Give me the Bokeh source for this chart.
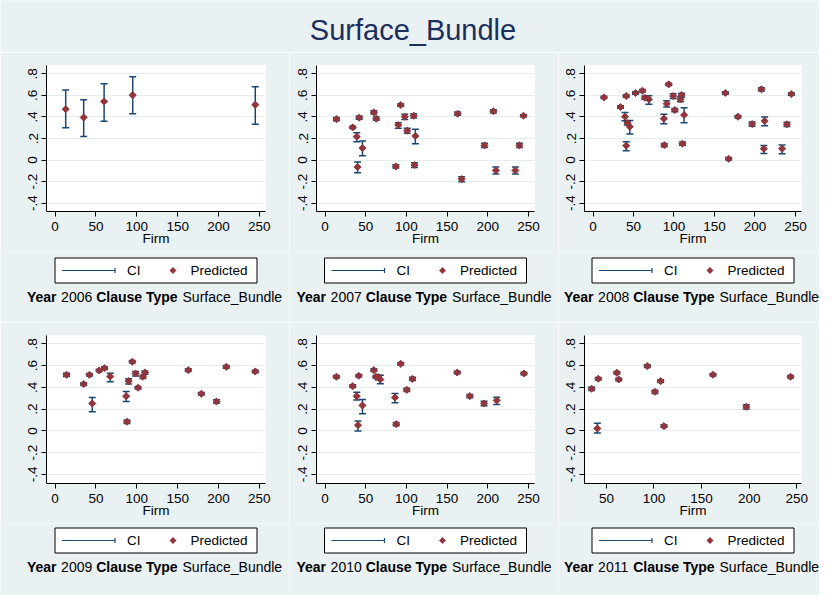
import math
from bokeh.plotting import figure
from bokeh.layouts import column, row
from bokeh.models import Range1d, FixedTicker, Whisker, TeeHead, ColumnDataSource
from bokeh.core.properties import value
from bokeh.embed import file_html
from bokeh.resources import INLINE

# ---------------- data ----------------
TITLE = "Surface_Bundle"
YEARS = [2006, 2007, 2008, 2009, 2010, 2011]
X_TICKS = [0, 50, 100, 150, 200, 250]
Y_TICKS = [-0.4, -0.2, 0, 0.2, 0.4, 0.6, 0.8]
Y_LABELS = ["-.4", "-.2", "0", ".2", ".4", ".6", ".8"]

firm_2006 = [13, 35, 60, 95, 245]
pred_2006 = [0.472, 0.395, 0.543, 0.602, 0.513]
lo_2006 = [0.299, 0.219, 0.361, 0.429, 0.333]
hi_2006 = [0.649, 0.559, 0.707, 0.772, 0.680]

firm_2007 = [14, 34, 39, 40, 42, 46, 60, 63, 87, 90, 93, 98, 101, 109, 110, 111,
             163, 168, 196, 207, 210, 234, 239, 244]
pred_2007 = [0.380, 0.303, 0.217, -0.065, 0.393, 0.111, 0.442, 0.384, -0.059, 0.325,
             0.510, 0.402, 0.272, 0.411, -0.046, 0.223, 0.430, -0.176, 0.136, 0.452,
             -0.096, -0.096, 0.136, 0.411]
lo_2007 = [0.365, 0.293, 0.170, -0.118, 0.378, 0.040, 0.427, 0.369, -0.074, 0.294,
           0.498, 0.377, 0.248, 0.390, -0.070, 0.152, 0.415, -0.200, 0.116, 0.437,
           -0.130, -0.130, 0.116, 0.401]
hi_2007 = [0.395, 0.313, 0.254, -0.019, 0.408, 0.176, 0.457, 0.399, -0.044, 0.346,
           0.522, 0.424, 0.295, 0.430, -0.025, 0.285, 0.445, -0.155, 0.156, 0.467,
           -0.065, -0.065, 0.156, 0.421]

firm_2008 = [13.5, 34, 39.5, 41, 41, 42.5, 45.5, 52.5, 61, 64, 69, 87.5, 88, 91, 93.5,
             99, 101, 108, 109.5, 110.5, 112.5, 163.5, 167.5, 179, 196.5, 208, 211,
             212, 233.5, 239.5, 245]
pred_2008 = [0.581, 0.492, 0.402, 0.594, 0.133, 0.343, 0.309, 0.622, 0.643, 0.578,
             0.563, 0.384, 0.139, 0.523, 0.702, 0.594, 0.464, 0.563, 0.603, 0.152,
             0.418, 0.622, 0.012, 0.402, 0.334, 0.656, 0.105, 0.362, 0.105, 0.331, 0.612]
lo_2008 = [0.571, 0.480, 0.365, 0.582, 0.087, 0.325, 0.241, 0.610, 0.631, 0.563,
           0.517, 0.337, 0.124, 0.492, 0.692, 0.570, 0.449, 0.540, 0.585, 0.137,
           0.346, 0.610, 0.000, 0.390, 0.314, 0.641, 0.062, 0.319, 0.059, 0.311, 0.600]
hi_2008 = [0.591, 0.504, 0.440, 0.606, 0.170, 0.360, 0.368, 0.634, 0.655, 0.593,
           0.597, 0.424, 0.154, 0.549, 0.712, 0.615, 0.479, 0.585, 0.620, 0.167,
           0.486, 0.634, 0.024, 0.414, 0.354, 0.671, 0.136, 0.399, 0.139, 0.351, 0.624]

firm_2009 = [14, 35, 42, 45.5, 54, 60.5, 67.5, 87, 88, 90, 94.5, 98.5, 101.5, 107.5,
             110, 163, 179, 197.5, 209.5, 245]
pred_2009 = [0.515, 0.430, 0.515, 0.252, 0.555, 0.576, 0.500, 0.319, 0.084, 0.457,
             0.635, 0.527, 0.396, 0.497, 0.536, 0.558, 0.341, 0.270, 0.588, 0.546]
lo_2009 = [0.500, 0.418, 0.503, 0.175, 0.543, 0.564, 0.451, 0.270, 0.069, 0.430,
           0.623, 0.505, 0.384, 0.482, 0.521, 0.546, 0.329, 0.255, 0.576, 0.534]
hi_2009 = [0.530, 0.442, 0.527, 0.307, 0.567, 0.588, 0.530, 0.362, 0.099, 0.480,
           0.647, 0.545, 0.408, 0.512, 0.551, 0.570, 0.353, 0.285, 0.600, 0.558]

firm_2010 = [14, 34, 39, 40.5, 41.5, 46, 60, 62.5, 65.5, 68, 86, 87.5, 93, 100.5,
             107.5, 162.5, 178, 195.5, 211, 244.5]
pred_2010 = [0.497, 0.411, 0.319, 0.053, 0.506, 0.234, 0.558, 0.497, 0.494, 0.472,
             0.306, 0.062, 0.616, 0.377, 0.478, 0.536, 0.319, 0.252, 0.280, 0.527]
lo_2010 = [0.485, 0.399, 0.283, 0.000, 0.494, 0.157, 0.546, 0.485, 0.470, 0.433,
           0.258, 0.047, 0.604, 0.362, 0.463, 0.524, 0.304, 0.232, 0.243, 0.515]
hi_2010 = [0.509, 0.423, 0.356, 0.090, 0.518, 0.289, 0.570, 0.509, 0.512, 0.512,
           0.344, 0.077, 0.628, 0.392, 0.493, 0.548, 0.334, 0.272, 0.310, 0.539]

firm_2011 = [34.5, 40.5, 41.5, 61, 63, 93, 101, 107, 110.5, 162, 197, 243.5]
pred_2011 = [0.387, 0.022, 0.479, 0.534, 0.472, 0.595, 0.359, 0.457, 0.044, 0.515,
             0.221, 0.497]
lo_2011 = [0.372, -0.020, 0.467, 0.522, 0.460, 0.583, 0.344, 0.445, 0.032, 0.503,
           0.201, 0.485]
hi_2011 = [0.402, 0.071, 0.491, 0.546, 0.484, 0.607, 0.374, 0.469, 0.056, 0.527,
           0.241, 0.509]

PANELS = [
    (firm_2006, pred_2006, lo_2006, hi_2006),
    (firm_2007, pred_2007, lo_2007, hi_2007),
    (firm_2008, pred_2008, lo_2008, hi_2008),
    (firm_2009, pred_2009, lo_2009, hi_2009),
    (firm_2010, pred_2010, lo_2010, hi_2010),
    (firm_2011, pred_2011, lo_2011, hi_2011),
]
X_RANGES = [(-10.5, 257.5)] * 5 + [(27, 255)]
Y_RANGES = [(-0.477, 0.877), (-0.483, 0.876)]

# ---------------- style ----------------
BG = "#eaf1f3"
GRID = "#e3ecee"
NAVY = "#1a476f"
MAROON = "#90353b"
TITLE_COLOR = "#1c2f5c"
FONT = "Liberation Sans"

COL_W = [289, 269, 261]
LEFT = [46, 27, 26]
RIGHT = [24, 24, 18]
MAIN_H = [199, 201]
STRIP_H = [71, 72]
BOX_TOP = [6.5, 4.5]
SUB_Y = [45, 43.5]

# Arial-compatible advance widths (per 1000 em) for subtitle layout
W_REG = {' ': 278, 'Y': 667, 'e': 556, 'a': 556, 'r': 333, 'C': 722, 'l': 222,
         'u': 556, 's': 500, 'T': 611, 'y': 500, 'p': 556, 'S': 667, 'f': 278,
         'c': 500, '_': 556, 'B': 667, 'n': 556, 'd': 556}
W_BOLD = {' ': 278, 'Y': 667, 'e': 556, 'a': 556, 'r': 389, 'C': 722, 'l': 278,
          'u': 611, 's': 556, 'T': 611, 'y': 556, 'p': 611}
for dgt in "0123456789":
    W_REG[dgt] = 556


def text_w(s, bold, size):
    table = W_BOLD if bold else W_REG
    return sum(table.get(ch, 556) for ch in s) * size / 1000.0


def blank_fig(w, h):
    f = figure(width=w, height=h, x_range=Range1d(0, w), y_range=Range1d(h, 0),
               x_axis_type=None, y_axis_type=None, output_backend="svg",
               toolbar_location=None, tools="", min_border=0, frame_align=False)
    f.background_fill_color = BG
    f.border_fill_color = BG
    f.outline_line_color = None
    return f


def panel(i):
    col, r = i % 3, i // 3
    firm, pred, lo, hi = PANELS[i]
    p = figure(width=COL_W[col], height=MAIN_H[r],
               x_range=Range1d(*X_RANGES[i]), y_range=Range1d(*Y_RANGES[r]),
               output_backend="svg", toolbar_location=None, tools="",
               min_border_left=LEFT[col], min_border_right=RIGHT[col],
               min_border_top=13, min_border_bottom=40, frame_align=False)
    p.background_fill_color = "white"
    p.border_fill_color = BG
    p.outline_line_color = None
    p.xgrid.visible = False
    yt = FixedTicker(ticks=Y_TICKS)
    p.yaxis.ticker = yt
    p.ygrid.ticker = yt
    p.ygrid.grid_line_color = GRID
    p.ygrid.grid_line_width = 1
    p.xaxis.ticker = FixedTicker(ticks=X_TICKS)
    p.yaxis.major_label_overrides = dict(zip(Y_TICKS, Y_LABELS))
    p.yaxis.major_label_orientation = "vertical"
    p.xaxis.axis_label = "Firm"
    for ax in (p.xaxis[0], p.yaxis[0]):
        ax.axis_line_color = "black"
        ax.axis_line_width = 1
        ax.major_tick_line_color = "black"
        ax.minor_tick_line_color = None
        ax.major_tick_out = 5
        ax.major_tick_in = 0
        ax.major_label_text_font = FONT
        ax.major_label_text_font_size = "13.5px"
        ax.major_label_text_color = "black"
    p.xaxis.major_label_standoff = 5
    p.yaxis.major_label_standoff = 4
    p.xaxis.axis_label_standoff = -3
    p.xaxis.axis_label_text_font = FONT
    p.xaxis.axis_label_text_font_size = "13.5px"
    p.xaxis.axis_label_text_font_style = "normal"
    p.xaxis.axis_label_text_color = "black"

    src = ColumnDataSource(dict(x=firm, y=pred, lo=lo, hi=hi))
    wk = Whisker(base="x", upper="hi", lower="lo", source=src, dimension="height",
                 line_color=NAVY, line_width=1.5,
                 upper_head=TeeHead(size=7, line_color=NAVY, line_width=1.5),
                 lower_head=TeeHead(size=7, line_color=NAVY, line_width=1.5))
    p.add_layout(wk)
    p.scatter("x", "y", source=src, marker="square", angle=math.pi / 4, size=5,
              fill_color=MAROON, line_color=MAROON, line_width=1)
    return p


def strip(i):
    col, r = i % 3, i // 3
    w, h = COL_W[col], STRIP_H[r]
    s = blank_fig(w, h)
    cx = LEFT[col] + (w - LEFT[col] - RIGHT[col]) / 2.0
    bx = cx - 101
    top = BOX_TOP[r]
    bot = top + 25
    ym = (top + bot) / 2
    s.quad(left=[bx], right=[bx + 202], top=[top], bottom=[bot],
           fill_color="white", line_color="black", line_width=1)
    s.segment(x0=[bx + 7], y0=[ym], x1=[bx + 60], y1=[ym], line_color=NAVY, line_width=1.2)
    s.segment(x0=[bx + 60], y0=[ym - 2.5], x1=[bx + 60], y1=[ym + 2.5],
              line_color=NAVY, line_width=1.2)
    s.text(x=[bx + 72], y=[ym], text=["CI"], text_align="left", text_baseline="middle",
           text_font=value(FONT), text_font_size="13.5px", text_color="black")
    s.scatter(x=[bx + 118], y=[ym], marker="square", angle=math.pi / 4, size=4.5,
              fill_color=MAROON, line_color=MAROON, line_width=0.5)
    s.text(x=[bx + 135.5], y=[ym], text=["Predicted"], text_align="left",
           text_baseline="middle", text_font=value(FONT), text_font_size="13.5px",
           text_color="black")

    size = 14
    parts = [("Year", True), (" %d " % YEARS[i], False), ("Clause Type", True),
             (" " + TITLE, False)]
    total = sum(text_w(t, b, size) for t, b in parts)
    x = cx - 1.5 - total / 2.0
    for t, b in parts:
        lead = len(t) - len(t.lstrip(" "))
        xs = x + text_w(" " * lead, b, size)
        s.text(x=[xs], y=[SUB_Y[r]], text=[t.strip()], text_align="left",
               text_baseline="middle", text_font=value(FONT),
               text_font_size="%dpx" % size,
               text_font_style="bold" if b else "normal", text_color="black")
        x += text_w(t, b, size)
    return s


tfig = blank_fig(sum(COL_W), 52)
tfig.text(x=[412.5], y=[29], text=[TITLE], text_align="center", text_baseline="middle",
          text_font=value(FONT), text_font_size="29px", text_color=TITLE_COLOR)

rows = []
for r in range(2):
    rows.append(row(*[column(panel(r * 3 + c), strip(r * 3 + c)) for c in range(3)]))

layout = column(tfig, *rows)
open("out.html", "w").write(file_html(layout, INLINE))
